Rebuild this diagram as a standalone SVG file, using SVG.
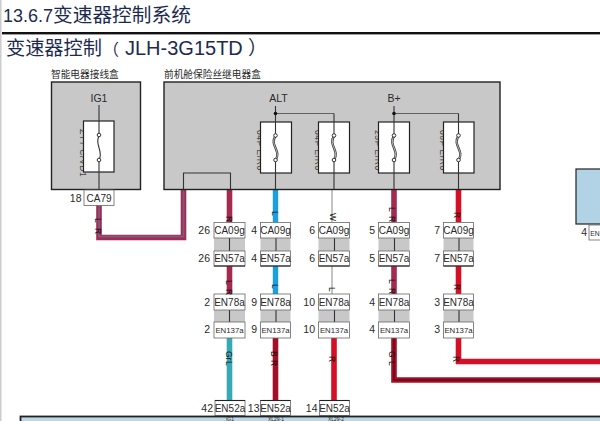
<svg xmlns="http://www.w3.org/2000/svg" width="600" height="421" viewBox="0 0 600 421">
<style>
text{font-family:"Liberation Sans","Noto Sans CJK SC",sans-serif;fill:#2a2a2a}
.h{fill:#1d2b4f}
.cap{font-size:9.7px}
.box{fill:#c8c8c8;stroke:#222;stroke-width:1.4}
.fuse{fill:#fff;stroke:#222;stroke-width:1.2}
.thin{fill:none;stroke:#333;stroke-width:1.1}
.sym{fill:none;stroke:#333;stroke-width:2.3}
.symi{fill:none;stroke:#ddd;stroke-width:.8}
.pin{fill:#fff;stroke:#333;stroke-width:1}
.gate{fill:#c8c8c8}
.con{fill:#fff;stroke:#666;stroke-width:.8}
.edge{fill:none;stroke:#222;stroke-width:1.1}
.n{font-size:10.5px;text-anchor:end}
.c{font-size:10px;text-anchor:middle}
.s{font-size:7.8px;text-anchor:middle}
.f{font-size:8.5px;fill:#444;letter-spacing:.6px}
.lab{font-size:8.5px;fill:#111}
.mar{fill:none;stroke:#a52a50;stroke-width:5.6}
.blu{fill:none;stroke:#1a9fe0;stroke-width:5.4}
.red{fill:none;stroke:#d50f25;stroke-width:5.6}
.dkr{fill:none;stroke:#a50f25;stroke-width:5.6}
.tea{fill:none;stroke:#35a9b5;stroke-width:5.6}
</style>
<rect width="600" height="421" fill="#fff"/>
<rect x="0" y="0" width="1.5" height="421" fill="#ccc"/>
<text class="h" x="3" y="22" font-size="18">13.6.7<tspan font-size="19.7">变速器控制系统</tspan></text>
<rect x="2" y="32" width="598" height="2.400" fill="#111"/>
<text class="h" x="6" y="55" font-size="19.200">变速器控制<tspan font-size="16" x="103">（</tspan><tspan x="125" font-size="20">JLH-3G15TD</tspan><tspan x="248">）</tspan></text>
<text class="cap" x="51" y="78">智能电器接线盒</text>
<text class="cap" x="164" y="78">前机舱保险丝继电器盒</text>

<g id="connectors">
<path class="mar" d="M99 205V237.500H183.500V189"/>
<path d="M99 205V236.500H183.500V189" fill="none" stroke="#7a5a80" stroke-width="1.800"/>
<path class="mar" d="M229.500 189V222M229.500 266V294"/>
<path class="tea" d="M229.500 338V400"/>
<path class="blu" d="M275.500 189V222M275.500 266V294"/>
<path class="dkr" d="M275.500 338V400"/>
<path d="M332 189V222M332 266V294" fill="none" stroke="#888" stroke-width="1"/>
<path class="red" d="M334 338V400"/>
<path class="mar" d="M394 189V222M394 266V294"/>
<path class="dkr" d="M394 338V380H600"/>
<path d="M394 338V380H600" fill="none" stroke="#6a0a18" stroke-width="1.500"/>
<path class="red" d="M458.500 189V222M458.500 266V294M458.500 338V361.500H600"/>
</g>

<g id="box-smart"><rect class="box" x="51.500" y="82" width="89" height="107.500"/>
<text x="99" y="102" font-size="10.500" text-anchor="middle">IG1</text>
<text class="f" transform="translate(80 129) rotate(90)">ZTT C/VD1</text>
<rect class="fuse" x="83.500" y="121" width="30.500" height="51"/>
<path class="thin" d="M99 105V135M99 160V189"/>
<path class="thin" d="M99 136C94 144 104 151 99 160"/>
<circle class="pin" cx="99" cy="135" r="1.800"/><circle class="pin" cx="99" cy="160" r="1.800"/>
</g>

<g id="box-fuse"><rect class="box" x="164" y="82" width="336" height="107.500"/>
<text x="278.500" y="102" font-size="10.500" text-anchor="middle">ALT</text>
<text x="394" y="102" font-size="10.500" text-anchor="middle">B+</text>
<path class="thin" d="M183.500 189V173H230.500V189"/>
<path d="M275.500 113.500H334" fill="none" stroke="#555" stroke-width=".9"/>
<path d="M394 113.500H458.500" fill="none" stroke="#555" stroke-width=".9"/>
<g id="fuse-1"><text class="f" transform="translate(257 130) rotate(90)">04F E/R0</text><rect class="fuse" x="260.500" y="122" width="31" height="51"/><path class="thin" d="M275.500 106V135M275.500 160V189"/><path class="sym" d="M275.500 136C269 145 282 151 275.500 160"/><path class="symi" d="M275.500 136C269 145 282 151 275.500 160"/><circle class="pin" cx="275.500" cy="135.500" r="1.800"/><circle class="pin" cx="275.500" cy="160" r="1.800"/></g>
<g id="fuse-2"><text class="f" transform="translate(315 130) rotate(90)">04F E/R0</text><rect class="fuse" x="318.500" y="122" width="31" height="51"/><path class="thin" d="M334 113.500V135M334 160V189"/><path class="sym" d="M334 136C328 145 340 151 334 160"/><path class="symi" d="M334 136C328 145 340 151 334 160"/><circle class="pin" cx="334" cy="135.500" r="1.800"/><circle class="pin" cx="334" cy="160" r="1.800"/></g>
<g id="fuse-3"><text class="f" transform="translate(375 130) rotate(90)">25F E/R0</text><rect class="fuse" x="378.500" y="122" width="31" height="51"/><path class="thin" d="M394 106V135M394 160V189"/><path class="sym" d="M394 136C388 145 400 151 394 160"/><path class="symi" d="M394 136C388 145 400 151 394 160"/><circle class="pin" cx="394" cy="135.500" r="1.800"/><circle class="pin" cx="394" cy="160" r="1.800"/></g>
<g id="fuse-4"><text class="f" transform="translate(440 130) rotate(90)">06F E/R0</text><rect class="fuse" x="443.500" y="122" width="30.500" height="51"/><path class="thin" d="M458.500 113.500V135M458.500 160V189"/><path class="sym" d="M458.500 136C452 145 465 151 458.500 160"/><path class="symi" d="M458.500 136C452 145 465 151 458.500 160"/><circle class="pin" cx="458.500" cy="135.500" r="1.800"/><circle class="pin" cx="458.500" cy="160" r="1.800"/></g>
<circle cx="275.500" cy="113.500" r="1.800" fill="#111"/><circle cx="394" cy="113.500" r="1.800" fill="#111"/>
</g>

<g id="conn-ca79"><rect class="con" x="84" y="190" width="30" height="15.500"/><text class="c" x="99" y="201.500">CA79</text><text class="n" x="81.500" y="201.500">18</text></g>

<g id="conn-col-1">
<rect class="gate" x="214" y="238" width="31" height="13"/><rect class="gate" x="214" y="310" width="31" height="12"/>
<path class="thin" d="M229.500 238V251M229.500 310V322"/>
<rect class="con" x="214" y="222.500" width="31" height="15.500"/><text class="c" x="229.500" y="234">CA09g</text><text class="n" x="210" y="234">26</text>
<rect class="con" x="214" y="251" width="31" height="15"/><path class="edge" d="M214 266H245"/><text class="c" x="229.500" y="262">EN57a</text><text class="n" x="210" y="262">26</text>
<rect class="con" x="214" y="294" width="31" height="16"/><text class="c" x="229.500" y="305.500">EN78a</text><text class="n" x="210" y="305.500">2</text>
<rect class="con" x="214" y="322" width="31" height="16"/><text class="s" x="229.500" y="333">EN137a</text><text class="n" x="210" y="333">2</text>
<rect class="con" x="215" y="400.500" width="30" height="15"/><path class="edge" d="M215 400.500H245"/><text class="c" x="230" y="412">EN52a</text><text class="n" x="213" y="412">42</text>
</g>
<g id="conn-col-2">
<rect class="gate" x="260.500" y="238" width="30" height="13"/><rect class="gate" x="260.500" y="310" width="30" height="12"/>
<path class="thin" d="M276 238V251M276 310V322"/>
<rect class="con" x="260.500" y="222.500" width="30" height="15.500"/><text class="c" x="275.500" y="234">CA09g</text><text class="n" x="257" y="234">4</text>
<rect class="con" x="260.500" y="251" width="30" height="15"/><path class="edge" d="M260.500 266H290.500"/><text class="c" x="275.500" y="262">EN57a</text><text class="n" x="257" y="262">4</text>
<rect class="con" x="260.500" y="294" width="30" height="16"/><text class="c" x="275.500" y="305.500">EN78a</text><text class="n" x="257" y="305.500">9</text>
<rect class="con" x="260.500" y="322" width="30" height="16"/><text class="s" x="275.500" y="333">EN137a</text><text class="n" x="257" y="333">9</text>
<rect class="con" x="260.500" y="400.500" width="30" height="15"/><path class="edge" d="M260.500 400.500H290.500"/><text class="c" x="275.500" y="412">EN52a</text><text class="n" x="259.500" y="412">13</text>
</g>
<g id="conn-col-3">
<rect class="gate" x="318.500" y="238" width="31" height="13"/><rect class="gate" x="318.500" y="310" width="31" height="12"/>
<path class="thin" d="M334.500 238V251M334.500 310V322"/>
<rect class="con" x="318.500" y="222.500" width="31" height="15.500"/><text class="c" x="334" y="234">CA09g</text><text class="n" x="315" y="234">6</text>
<rect class="con" x="318.500" y="251" width="31" height="15"/><path class="edge" d="M318.500 266H349.500"/><text class="c" x="334" y="262">EN57a</text><text class="n" x="315" y="262">6</text>
<rect class="con" x="318.500" y="294" width="31" height="16"/><text class="c" x="334" y="305.500">EN78a</text><text class="n" x="315" y="305.500">10</text>
<rect class="con" x="318.500" y="322" width="31" height="16"/><text class="s" x="334" y="333">EN137a</text><text class="n" x="315" y="333">10</text>
<rect class="con" x="319.500" y="400.500" width="30" height="15"/><path class="edge" d="M319.500 400.500H349.500"/><text class="c" x="334.500" y="412">EN52a</text><text class="n" x="317.500" y="412">14</text>
</g>
<g id="conn-col-4">
<rect class="gate" x="378.500" y="238" width="31" height="13"/><rect class="gate" x="378.500" y="310" width="31" height="12"/>
<path class="thin" d="M394.500 238V251M394.500 310V322"/>
<rect class="con" x="378.500" y="222.500" width="31" height="15.500"/><text class="c" x="394" y="234">CA09g</text><text class="n" x="375" y="234">5</text>
<rect class="con" x="378.500" y="251" width="31" height="15"/><path class="edge" d="M378.500 266H409.500"/><text class="c" x="394" y="262">EN57a</text><text class="n" x="375" y="262">5</text>
<rect class="con" x="378.500" y="294" width="31" height="16"/><text class="c" x="394" y="305.500">EN78a</text><text class="n" x="375" y="305.500">4</text>
<rect class="con" x="378.500" y="322" width="31" height="16"/><text class="s" x="394" y="333">EN137a</text><text class="n" x="375" y="333">4</text>
</g>
<g id="conn-col-5">
<rect class="gate" x="443.500" y="238" width="30" height="13"/><rect class="gate" x="443.500" y="310" width="30" height="12"/>
<path class="thin" d="M459 238V251M459 310V322"/>
<rect class="con" x="443.500" y="222.500" width="30" height="15.500"/><text class="c" x="458.500" y="234">CA09g</text><text class="n" x="440" y="234">7</text>
<rect class="con" x="443.500" y="251" width="30" height="15"/><path class="edge" d="M443.500 266H473.500"/><text class="c" x="458.500" y="262">EN57a</text><text class="n" x="440" y="262">7</text>
<rect class="con" x="443.500" y="294" width="30" height="16"/><text class="c" x="458.500" y="305.500">EN78a</text><text class="n" x="440" y="305.500">3</text>
<rect class="con" x="443.500" y="322" width="30" height="16"/><text class="s" x="458.500" y="333">EN137a</text><text class="n" x="440" y="333">3</text>
</g>

<g id="wire-labels">
<text class="lab" transform="translate(95 218) rotate(90)">L</text><text class="lab" transform="translate(95 228) rotate(90)">R</text>
<text class="lab" transform="translate(226 216) rotate(90)">R</text>
<text class="lab" transform="translate(226 280) rotate(90)">L</text><text class="lab" transform="translate(226 289) rotate(90)">R</text>
<text class="lab" transform="translate(226 351) rotate(90)">Gr</text><text class="lab" transform="translate(226 361) rotate(90)">L</text>
<text class="lab" transform="translate(272 211) rotate(90)">L</text><text class="lab" transform="translate(272 284) rotate(90)">L</text>
<text class="lab" transform="translate(271 351) rotate(90)">B</text><text class="lab" transform="translate(271 360) rotate(90)">R</text>
<text class="lab" transform="translate(330 213) rotate(90)">W</text><text class="lab" transform="translate(329 287) rotate(90)">L</text>
<text class="lab" transform="translate(329 356) rotate(90)">R</text>
<text class="lab" transform="translate(389 207) rotate(90)">L</text><text class="lab" transform="translate(389 216) rotate(90)">R</text>
<text class="lab" transform="translate(389 279) rotate(90)">L</text><text class="lab" transform="translate(389 288) rotate(90)">R</text>
<text class="lab" transform="translate(389 351) rotate(90)">G</text><text class="lab" transform="translate(389 361) rotate(90)">L</text>
<text class="lab" transform="translate(454 212) rotate(90)">R</text><text class="lab" transform="translate(454 284) rotate(90)">R</text><text class="lab" transform="translate(453 356) rotate(90)">R</text>
</g>

<g id="box-tcm"><rect x="20.500" y="416.500" width="590" height="12" fill="#bcd8e8" stroke="#222" stroke-width="1.800"/>
<text x="230" y="420.800" font-size="5" text-anchor="middle">IG1</text><text x="276" y="420.800" font-size="5" text-anchor="middle">XL29-1</text><text x="336" y="420.800" font-size="5" text-anchor="middle">XL29-2</text></g>
<g id="box-right"><rect x="576" y="169" width="30" height="55" fill="#b2d3e6" stroke="#222" stroke-width="1.200"/>
<rect class="con" x="589" y="225" width="16" height="15"/><text x="590.300" y="236" font-size="6.800">EN</text><text class="n" x="587" y="236">4</text></g>
</svg>
